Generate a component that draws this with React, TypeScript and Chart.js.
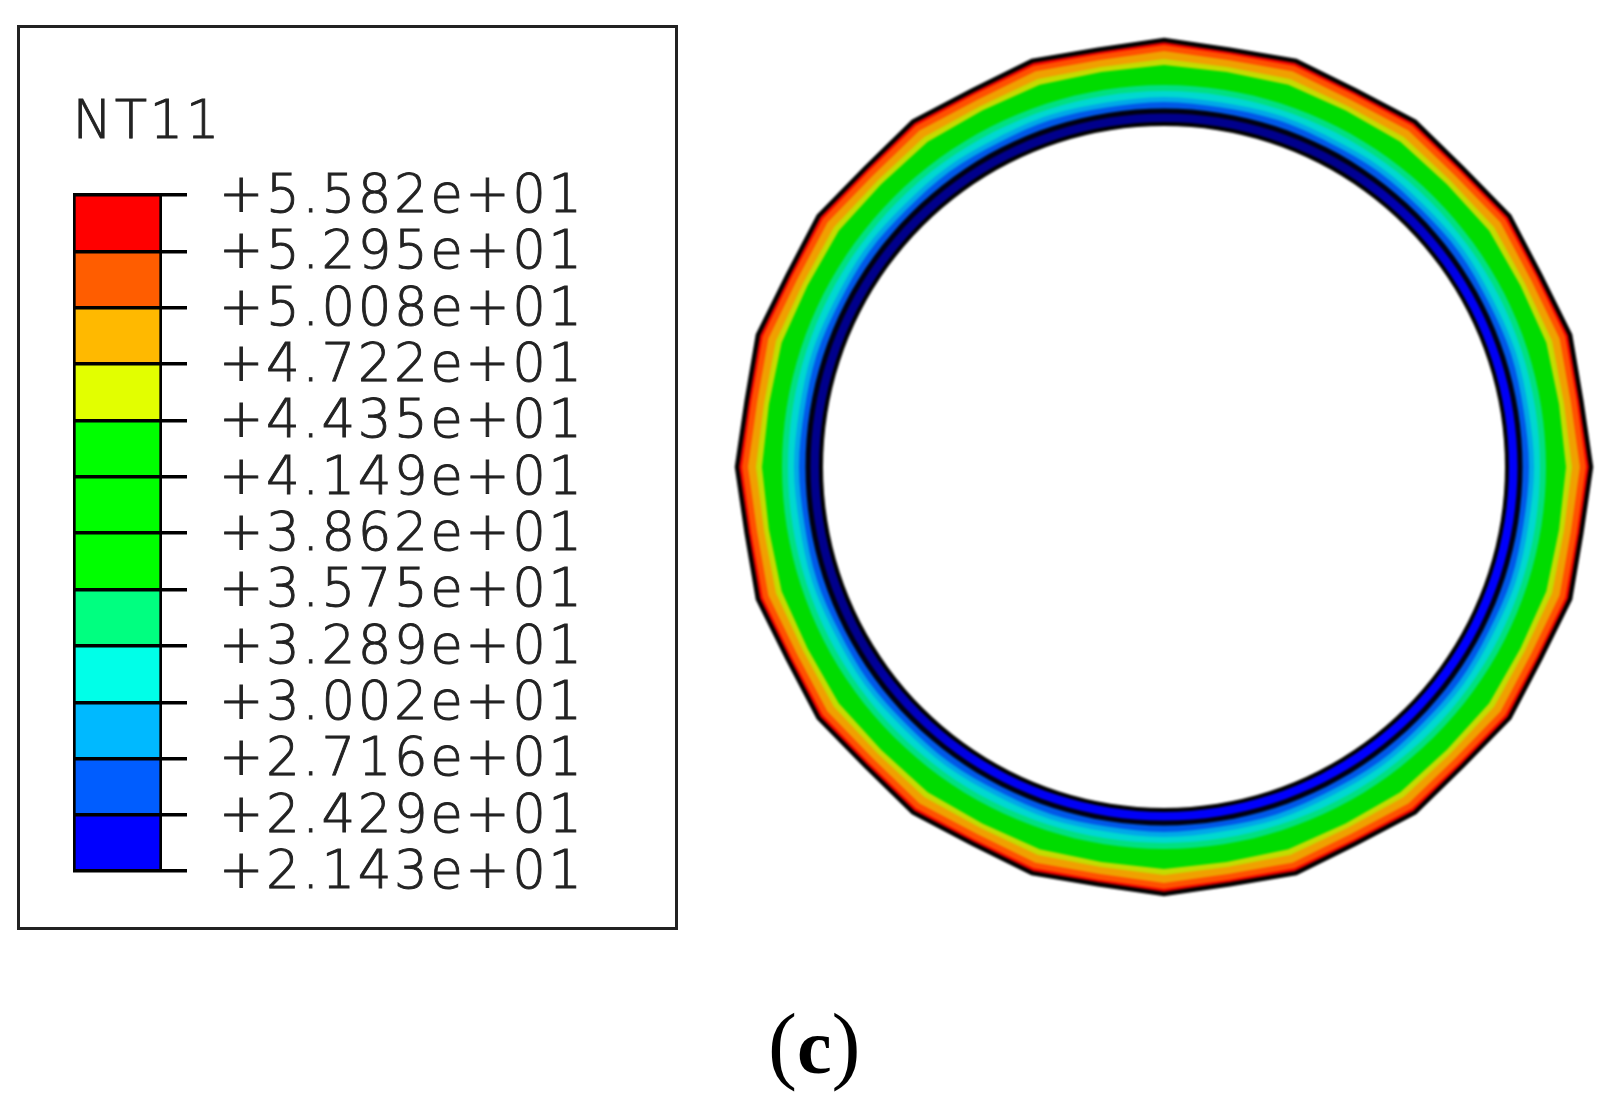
import React, { useEffect, useRef } from "react";
import { Chart, registerables } from "chart.js";

Chart.register(...registerables);

// ---- colour bar (NT11) ----
const tickValues = [21.43, 24.29, 27.16, 30.02, 32.89, 35.75, 38.62, 41.49, 44.35, 47.22, 50.08, 52.95, 55.82];
const tickLabels = [
  "+2.143e+01", "+2.429e+01", "+2.716e+01", "+3.002e+01", "+3.289e+01", "+3.575e+01", "+3.862e+01",
  "+4.149e+01", "+4.435e+01", "+4.722e+01", "+5.008e+01", "+5.295e+01", "+5.582e+01",
];
const binColors = [
  "#0000FF", "#005DFF", "#00B9FF", "#00FFE8", "#00FF80", "#00FF00",
  "#00FF00", "#00FF00", "#E2FF00", "#FFB900", "#FF5D00", "#FF0000",
];

// ---- ring: radius read at each polygon corner and edge middle, clockwise from the top ----
const ringAngles = [
  "0", "9", "18", "27", "36", "45", "54", "63", "72", "81", "90", "99", "108", "117", "126", "135", "144", "153", "162", "171",
  "180", "189", "198", "207", "216", "225", "234", "243", "252", "261", "270", "279", "288", "297", "306", "315", "324", "333", "342", "351",
];
const redBand = [427,422.5,427,422.5,427,422.5,427,422.5,427,422.5,427,422.5,427,422.5,427,422.5,427,422.5,427,422.5,427,422.5,427,422.5,427,422.5,427,422.5,427,422.5,427,422.5,427,422.5,427,422.5,427,422.5,427,422.5];
const orangeRedBand = [422,418,422,418,422,418,422,418,422,418,422,418,422,418,422,418,422,418,422,418,422,418,422,418,422,418,422,418,422,418,422,418,422,418,422,418,422,418,422,418];
const orangeBand = [416,412,416,412,416,412,416,412,416,412,416,412,416,412,416,412,416,412,416,412,416,412,416,412,416,412,416,412,416,412,416,412,416,412,416,412,416,412,416,412];
const yellowBand = [408,405,408,405,408,405,408,405,408,405,408,405,408,405,408,405,408,405,408,405,408,405,408,405,408,405,408,405,408,405,408,405,408,405,408,405,408,405,408,405];
const greenBand = [402,400,402,400,402,400,402,400,402,400,402,400,402,400,402,400,402,400,402,400,402,400,402,400,402,400,402,400,402,400,402,400,402,400,402,400,402,400,402,400];
const aquaBand = [382,382,382,382,382,382,382,382,382,382,382,382,382,382,382,382,382,382,382,382,382,382,382,382,382,382,382,382,382,382,382,382,382,382,382,382,382,382,382,382];
const cyanBand = [376,376,376,376,376,376,376,376,376,376,376,376,376,376,376,376,376,376,376,376,376,376,376,376,376,376,376,376,376,376,376,376,376,376,376,376,376,376,376,376];
const skyBand = [370,369,370,369,370,369,370,369,370,369,370,369,370,369,370,369,370,369,370,369,370,369,370,369,370,369,370,369,370,369,370,369,370,369,370,369,370,369,370,369];
const blueBand = [365,364,365,364,365,364,365,364,365,364,365,364,365,364,365,364,365,364,365,364,365,364,365,364,365,364,365,364,365,364,365,364,365,364,365,364,365,364,365,364];
const darkLine = [358.5,358.5,358.5,358.5,358.5,358.5,358.5,358.5,358.5,358.5,358.5,358.5,358.5,358.5,358.5,358.5,358.5,358.5,358.5,358.5,358.5,358.5,358.5,358.5,358.5,358.5,358.5,358.5,358.5,358.5,358.5,358.5,358.5,358.5,358.5,358.5,358.5,358.5,358.5,358.5];
const innerBand = [353.5,353.5,353.5,353.5,353.5,353.5,353.5,353.5,353.5,353.5,353.5,353.5,353.5,353.5,353.5,353.5,353.5,353.5,353.5,353.5,353.5,353.5,353.5,353.5,353.5,353.5,353.5,353.5,353.5,353.5,353.5,353.5,353.5,353.5,353.5,353.5,353.5,353.5,353.5,353.5];
const boreEdge = [343,343,343,343,343,343,343,343,343,343,343,343,343,343,343,343,343,343,343,343,343,343,343,343,343,343,343,343,343,343,343,343,343,343,343,343,343,343,343,343];

const FONT = '"DejaVu Sans", sans-serif';
const textFont = { family: FONT, size: 53, weight: "200" };

const spacing = {
  id: "spacing",
  beforeDraw(chart: any) {
    chart.ctx.letterSpacing = "2.5px";
  },
};

export default function App() {
  const barRef = useRef<HTMLCanvasElement>(null);
  const ringRef = useRef<HTMLCanvasElement>(null);

  useEffect(() => {
    const barChart = new Chart(barRef.current!, {
      type: "bar",
      data: {
        labels: ["NT11"],
        datasets: binColors.map((c, i) => ({
          label: tickLabels[i],
          data: [[tickValues[i], tickValues[i + 1]]],
          backgroundColor: c,
          borderColor: "#000",
          borderWidth: { left: 3, right: 3, top: 0, bottom: 0 },
          borderSkipped: false,
          grouped: false,
          categoryPercentage: 1,
          barPercentage: 1,
        })),
      } as any,
      options: {
        animation: false,
        responsive: false,
        layout: { padding: { left: 0, right: 0, top: 0, bottom: 40 } },
        plugins: {
          legend: { display: false },
          tooltip: { enabled: false },
        },
        scales: {
          x: {
            position: "top",
            afterFit: (s: any) => {
              s.height = 105;
            },
            border: { display: false },
            grid: { display: false },
            ticks: {
              align: "start",
              color: "#222",
              padding: 31,
              labelOffset: -45,
              maxRotation: 0,
              font: textFont,
              textStrokeColor: "#222",
              textStrokeWidth: 0.9,
            },
          },
          y: {
            position: "right",
            min: 21.43,
            max: 55.82,
            afterBuildTicks: (s: any) => {
              s.ticks = tickValues.map((v) => ({ value: v }));
            },
            afterFit: (s: any) => {
              s.width = 511;
            },
            border: { display: false },
            grid: { color: "#000", lineWidth: 3.5, tickLength: 25, z: 1, drawOnChartArea: true },
            ticks: {
              color: "#222",
              padding: 32,
              autoSkip: false,
              labelOffset: 3,
              font: textFont,
              textStrokeColor: "#222",
              textStrokeWidth: 0.9,
              callback: (_v: any, i: number) => tickLabels[i],
            },
          },
        },
      } as any,
      plugins: [spacing],
    });

    const ringCanvas = ringRef.current!;
    const g = ringCanvas.getContext("2d")!.createLinearGradient(200, 200, 700, 700);
    g.addColorStop(0, "#00008C");
    g.addColorStop(0.38, "#00008C");
    g.addColorStop(0.62, "#0000F0");
    g.addColorStop(1, "#0000FF");

    const layer = (label: string, data: number[], fill: any, stroke?: string, w?: number, tension?: number) => ({
      label,
      data,
      backgroundColor: fill,
      borderColor: stroke || "transparent",
      borderWidth: w || 0,
      fill: "origin",
      pointRadius: 0,
      tension: tension || 0,
    });

    const ringChart = new Chart(ringCanvas, {
      type: "radar",
      data: {
        labels: ringAngles,
        datasets: [
          layer("bore", boreEdge, "#FFFFFF", "#000000", 4, 0.33),
          layer("+2.143e+01", innerBand, g, undefined, 0, 0.33),
          layer("line", darkLine, "#000010", undefined, 0, 0.33),
          layer("+2.429e+01", blueBand, "#0058E8", undefined, 0, 0.33),
          layer("+2.716e+01", skyBand, "#00A8E8", undefined, 0, 0.33),
          layer("+3.002e+01", cyanBand, "#00D8D0", undefined, 0, 0.33),
          layer("+3.289e+01", aquaBand, "#00E080", undefined, 0, 0.33),
          layer("+3.575e+01", greenBand, "#00DC00"),
          layer("+4.435e+01", yellowBand, "#C4DC00"),
          layer("+4.722e+01", orangeBand, "#F0A000"),
          layer("+5.008e+01", orangeRedBand, "#FF5000"),
          layer("+5.295e+01", redBand, "#F00000", "#000000", 4.5),
        ],
      } as any,
      options: {
        animation: false,
        responsive: false,
        plugins: { legend: { display: false }, tooltip: { enabled: false } },
        scales: {
          r: {
            min: 0,
            max: 450,
            grid: { display: false },
            angleLines: { display: false },
            pointLabels: { display: false },
            ticks: { display: false },
          },
        },
      } as any,
    });

    return () => {
      barChart.destroy();
      ringChart.destroy();
    };
  }, []);

  return (
    <div style={{ position: "absolute", left: 0, top: 0, width: 1608, height: 1104, overflow: "hidden", background: "#fff" }}>
      <div style={{ position: "absolute", left: 17, top: 25, width: 655, height: 899, border: "3px solid #222" }} />
      <canvas ref={barRef} width={600} height={845} style={{ position: "absolute", left: 73, top: 90, width: 600, height: 845, filter: "blur(0.6px)" }} />
      <canvas ref={ringRef} width={900} height={900} style={{ position: "absolute", left: 714, top: 17, width: 900, height: 900, filter: "blur(0.8px)" }} />
      <div style={{ position: "absolute", left: 768, top: 998, fontFamily: '"Liberation Serif", serif', fontSize: 87, lineHeight: "92px", color: "#000", whiteSpace: "nowrap" }}>
        (<b style={{ fontSize: 78 }}>c</b>)
      </div>
    </div>
  );
}
